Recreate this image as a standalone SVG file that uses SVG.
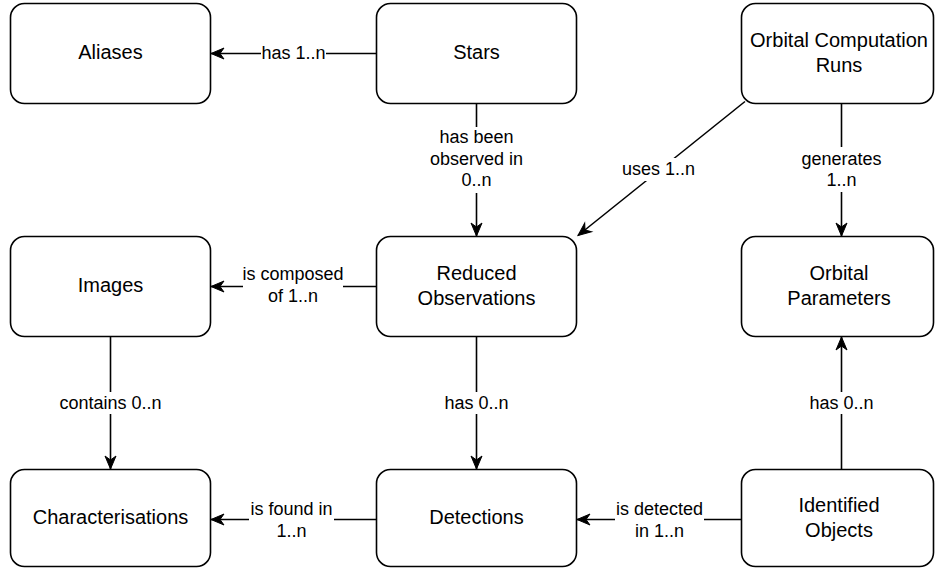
<svg xmlns="http://www.w3.org/2000/svg" width="935" height="568" viewBox="0 0 935 568">
  <style>
    .box { fill: #ffffff; stroke: #000000; stroke-width: 1.6; }
    .node-text { font-family: "Liberation Sans", Arial, Helvetica, sans-serif; font-size: 20px; fill: #000000; text-anchor: middle; }
    .edge { fill: none; stroke: #000000; stroke-width: 1.6; marker-end: url(#arrow); }
    .label-bg { fill: #ffffff; stroke: none; }
    .label { font-family: "Liberation Sans", Arial, Helvetica, sans-serif; font-size: 18px; fill: #000000; text-anchor: middle; }
  </style>
  <defs>
    <marker id="arrow" markerUnits="userSpaceOnUse" markerWidth="15" markerHeight="12" refX="13" refY="5.5" orient="auto" overflow="visible">
      <path d="M 13 5.5 L 0 0 L 4 5.5 L 0 11 Z" fill="#000000" stroke="#000000" stroke-width="1" stroke-linejoin="miter"/>
    </marker>
  </defs>

  <rect width="935" height="568" fill="#ffffff"/>

  <!-- connectors -->
  <g id="connectors">
    <!-- Stars -> Aliases -->
    <path class="edge" d="M 376.5 53.5 L 211 53.5"/>
    <!-- Stars -> Reduced Observations -->
    <path class="edge" d="M 476.5 103.5 L 476.5 236"/>
    <!-- Orbital Computation Runs -> Reduced Observations -->
    <path class="edge" d="M 745 101.5 L 578 235.5"/>
    <!-- Orbital Computation Runs -> Orbital Parameters -->
    <path class="edge" d="M 841.5 103.5 L 841.5 236"/>
    <!-- Reduced Observations -> Images -->
    <path class="edge" d="M 376.5 286.5 L 211 286.5"/>
    <!-- Images -> Characterisations -->
    <path class="edge" d="M 110.5 336.5 L 110.5 469"/>
    <!-- Reduced Observations -> Detections -->
    <path class="edge" d="M 476.5 336.5 L 476.5 469"/>
    <!-- Identified Objects -> Orbital Parameters -->
    <path class="edge" d="M 841.5 469.5 L 841.5 337"/>
    <!-- Detections -> Characterisations -->
    <path class="edge" d="M 376.5 519.5 L 211 519.5"/>
    <!-- Identified Objects -> Detections -->
    <path class="edge" d="M 741.5 519.5 L 577 519.5"/>

    <!-- connector labels -->
    <g id="label-has-aliases">
      <rect class="label-bg" x="261" y="44" width="65" height="20"/>
      <text class="label" x="293.5" y="59">has 1..n</text>
    </g>
    <g id="label-observed">
      <rect class="label-bg" x="429" y="127" width="95" height="66"/>
      <text class="label" x="476.5" y="143">has been</text>
      <text class="label" x="476.5" y="164.5">observed in</text>
      <text class="label" x="476.5" y="186">0..n</text>
    </g>
    <g id="label-uses">
      <rect class="label-bg" x="620" y="158" width="77" height="23"/>
      <text class="label" x="658.5" y="175">uses 1..n</text>
    </g>
    <g id="label-generates">
      <rect class="label-bg" x="801" y="147" width="81" height="45"/>
      <text class="label" x="841.5" y="164.5">generates</text>
      <text class="label" x="841.5" y="186">1..n</text>
    </g>
    <g id="label-composed">
      <rect class="label-bg" x="243" y="264" width="100" height="44"/>
      <text class="label" x="293" y="279.5">is composed</text>
      <text class="label" x="293" y="302">of 1..n</text>
    </g>
    <g id="label-contains">
      <rect class="label-bg" x="53" y="392" width="115" height="22"/>
      <text class="label" x="110.5" y="409">contains 0..n</text>
    </g>
    <g id="label-has-detections">
      <rect class="label-bg" x="441" y="392" width="71" height="22"/>
      <text class="label" x="476.5" y="409">has 0..n</text>
    </g>
    <g id="label-has-parameters">
      <rect class="label-bg" x="806" y="392" width="71" height="22"/>
      <text class="label" x="841.5" y="409">has 0..n</text>
    </g>
    <g id="label-found">
      <rect class="label-bg" x="249" y="497" width="85" height="46"/>
      <text class="label" x="291.5" y="514.5">is found in</text>
      <text class="label" x="291.5" y="537">1..n</text>
    </g>
    <g id="label-detected">
      <rect class="label-bg" x="615" y="497" width="89" height="46"/>
      <text class="label" x="659.5" y="514.5">is detected</text>
      <text class="label" x="659.5" y="537">in 1..n</text>
    </g>
  </g>

  <!-- nodes -->
  <g id="aliases">
    <rect class="box" x="10.5" y="3.5" width="200" height="100" rx="14" ry="14"/>
    <text class="node-text" x="110.5" y="59">Aliases</text>
  </g>
  <g id="stars">
    <rect class="box" x="376.5" y="3.5" width="200" height="100" rx="14" ry="14"/>
    <text class="node-text" x="476.5" y="59">Stars</text>
  </g>
  <g id="orbital-computation-runs">
    <rect class="box" x="741.5" y="3.5" width="192" height="100" rx="14" ry="14"/>
    <text class="node-text" x="839" y="47">Orbital Computation</text>
    <text class="node-text" x="839" y="71.5">Runs</text>
  </g>
  <g id="images">
    <rect class="box" x="10.5" y="236.5" width="200" height="100" rx="14" ry="14"/>
    <text class="node-text" x="110.5" y="292">Images</text>
  </g>
  <g id="reduced-observations">
    <rect class="box" x="376.5" y="236.5" width="200" height="100" rx="14" ry="14"/>
    <text class="node-text" x="476.5" y="280">Reduced</text>
    <text class="node-text" x="476.5" y="304.5">Observations</text>
  </g>
  <g id="orbital-parameters">
    <rect class="box" x="741.5" y="236.5" width="192" height="100" rx="14" ry="14"/>
    <text class="node-text" x="839" y="280">Orbital</text>
    <text class="node-text" x="839" y="304.5">Parameters</text>
  </g>
  <g id="characterisations">
    <rect class="box" x="10.5" y="469.5" width="200" height="97" rx="14" ry="14"/>
    <text class="node-text" x="110.5" y="524">Characterisations</text>
  </g>
  <g id="detections">
    <rect class="box" x="376.5" y="469.5" width="200" height="97" rx="14" ry="14"/>
    <text class="node-text" x="476.5" y="524">Detections</text>
  </g>
  <g id="identified-objects">
    <rect class="box" x="741.5" y="469.5" width="192" height="97" rx="14" ry="14"/>
    <text class="node-text" x="839" y="512">Identified</text>
    <text class="node-text" x="839" y="536.5">Objects</text>
  </g>
</svg>
